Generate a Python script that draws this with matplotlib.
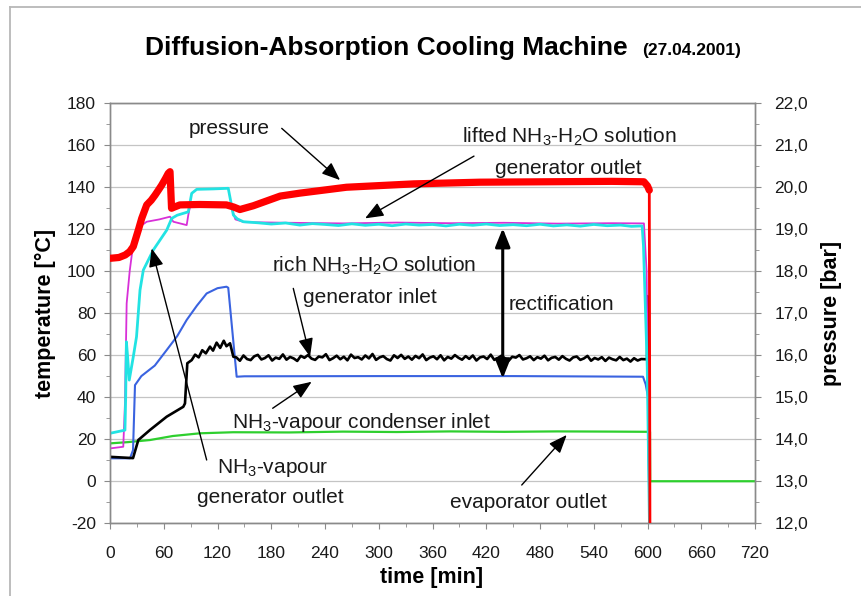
import matplotlib
matplotlib.use('Agg')
import matplotlib.pyplot as plt
from matplotlib.ticker import MultipleLocator, FuncFormatter
from matplotlib.lines import Line2D

plt.rcParams['font.family'] = ['Liberation Sans', 'DejaVu Sans']
plt.rcParams['mathtext.default'] = 'regular'
plt.rcParams['axes.unicode_minus'] = False

# ── measured data: time [min], temperature [°C], pressure [bar] ─────────────
press_t = [0, 10, 17, 22, 26, 31.6, 35.4, 41, 46, 50.2, 54, 57.7, 62, 65, 67,
           68.7, 72, 78, 100, 130, 138, 145, 160, 190, 212, 264, 339, 413,
           487, 560, 596, 600, 602, 602.8]
press_bar = [18.30, 18.32, 18.38, 18.46, 18.58, 18.97, 19.25, 19.57, 19.68,
             19.80, 19.92, 20.04, 20.20, 20.32, 20.36, 19.49, 19.52, 19.57,
             19.58, 19.57, 19.52, 19.46, 19.55, 19.78, 19.85, 19.99, 20.07,
             20.11, 20.12, 20.13, 20.12, 20.02, 19.92, 11.0]

# lifted NH3-H2O solution, generator outlet (cyan)
lift_t = [0, 16.7, 17.5, 18.3, 19.5, 21.5, 26, 29.6, 33.5, 37.2, 48.4, 63.3,
          68.9, 75, 87.4, 91.2, 96.8, 115, 132, 137.7, 142, 148.8, 165, 180,
          196, 212, 226, 240, 255, 270, 285, 300, 315, 330, 345, 360, 375,
          390, 405, 420, 435, 450, 465, 480, 495, 510, 525, 540, 555, 570,
          582, 594, 595.5, 599.7, 602.5]
lift_T = [22.8, 24.3, 40, 66.3, 60, 48.1, 59.2, 68.7, 90.9, 100.4, 110.0,
          119.4, 125.0, 126.5, 128.1, 136.9, 138.8, 139.0, 139.3, 126.6, 124.8,
          123.4, 122.9, 122.3, 122.8, 121.8, 122.5, 122.1, 121.6, 122.4, 121.7,
          122.2, 121.5, 122.3, 121.8, 122.1, 121.4, 122.2, 121.7, 122.3, 121.6,
          122.0, 121.5, 122.2, 121.4, 121.9, 121.3, 122.1, 121.5, 121.8, 121.2,
          121.4, 112, 54.4, -30]

# NH3-vapour, generator outlet (magenta)
vap_t = [0, 14.8, 16.7, 18.6, 22, 26, 27.9, 33, 41, 55, 67, 70.7, 85.6, 87.4,
         90, 134, 140, 150, 200, 260, 320, 380, 440, 500, 560, 596, 599,
         602.5]
vap_T = [15.6, 16.4, 37, 84.6, 100, 113.1, 117.9, 121, 123.4, 124.5, 125.8,
         123.4, 121.8, 126.6, 132, 132, 124.5, 123.2, 122.9, 122.6, 123.0,
         122.7, 122.9, 122.5, 122.7, 122.6, 100, -30]

# NH3-vapour, condenser inlet (blue)
cond_t = [0, 22.3, 25.7, 27.9, 35, 50, 63.3, 75, 85.6, 97, 107.9, 120, 130,
          132, 141.4, 150, 300, 450, 595, 598, 600.5, 602.5]
cond_T = [10.9, 10.9, 14.8, 45.7, 50, 55, 62.4, 69, 76.7, 83.5, 89.3, 91.8,
          92.5, 92.0, 49.7, 49.9, 50.0, 50.0, 49.7, 46, 40.2, -30]

# rich NH3-H2O solution, generator inlet (black)
rich_t = [0, 25.7, 31.6, 44.7, 63.3, 81.8, 83.7, 86.3, 91.2, 95, 99, 103,
          107, 111.6, 115, 119, 123, 127, 130, 134, 137.7,
          141, 145, 149, 153, 157, 161, 165, 169, 173, 177, 181, 185, 189,
          193, 197, 201, 205, 209, 213, 217, 221, 225, 229, 233, 237, 241,
          245, 249, 253, 257, 261, 265, 269, 273, 277, 281, 285, 289, 293,
          297, 301, 305, 309, 313, 317, 321, 325, 329, 333, 337, 341, 345,
          349, 353, 357, 361, 365, 369, 373, 377, 381, 385, 389, 393, 397,
          401, 405, 409, 413, 417, 421, 425, 429, 433, 437, 441, 445, 449,
          453, 457, 461, 465, 469, 473, 477, 481, 485, 489, 493, 497, 501,
          505, 509, 513, 517, 521, 525, 529, 533, 537, 541, 545, 549, 553,
          557, 561, 565, 569, 573, 577, 581, 585, 589, 593,
          599.5, 600.2, 601, 601.8, 602.5]
rich_T = [11.6, 11.0, 19.6, 24.4, 30.7, 35.4, 37.0, 56.1, 57.6, 60.2, 58.9,
          62.3, 60.8, 64.0, 62.1, 65.9, 63.4, 66.8, 64.2, 65.6, 59.2,
          58.9, 57.3, 59.8, 58.1, 57.6, 59.4, 60.1, 57.9, 58.6, 59.9,
          57.4, 58.8, 58.2, 60.3, 57.8, 59.1, 58.4, 57.2, 59.6, 58.7,
          60.0, 58.3, 57.7, 59.3, 58.9, 60.4, 57.6, 58.5, 59.7, 58.0,
          59.2, 57.5, 60.2, 58.6, 59.0, 57.9, 59.8, 58.4, 60.5, 57.7,
          58.9, 59.5, 58.1, 57.4, 59.9, 58.6, 60.1, 58.2, 59.3, 57.8,
          59.6, 58.5, 60.3, 57.6, 58.8, 59.4, 58.0, 59.9, 57.5, 59.1,
          58.3, 60.0, 58.7, 57.8, 59.5, 58.2, 59.8, 57.4, 58.9, 59.3,
          58.1, 60.2, 57.7, 58.6, 59.7, 58.4, 57.3, 59.2, 58.8, 60.0,
          57.9, 58.5, 59.4, 57.6, 59.0, 58.3, 59.7, 57.5, 58.7, 59.1,
          57.8, 59.5, 58.2, 57.4, 58.9, 59.3, 57.7, 58.4, 59.6, 57.3,
          58.6, 57.9, 59.0, 57.2, 58.8, 58.0, 57.5, 59.1, 57.6, 58.3,
          56.9, 58.5, 57.4, 58.1,
          58.0, 88.0, 75.0, 60.0, -30]

# evaporator outlet (green)
evap_t = [0, 20, 44.7, 70, 100.5, 137.5, 200, 260, 320, 380, 440, 500, 560,
          602.8, 603, 720]
evap_T = [18.0, 18.6, 19.6, 21.5, 22.8, 23.3, 23.2, 23.6, 23.4, 23.7, 23.5,
          23.7, 23.6, 23.5, 0, 0]

time_ticks = [0, 60, 120, 180, 240, 300, 360, 420, 480, 540, 600, 660, 720]

# ── figure ───────────────────────────────────────────────────────────────────
W, H = 861, 596
fig = plt.figure(figsize=(W / 100, H / 100), dpi=100)
fig.patch.set_facecolor('white')


def fx(px):
    return px / W


def fy(py):
    return 1 - py / H


ax = fig.add_axes([fx(110), fy(523.3), fx(755) - fx(110), fy(102.7) - fy(523.3)])
ax2 = ax.twinx()

# grey frame round the picture (only left and top edges are in view)
fig.add_artist(Line2D([fx(10), fx(10)], [0, fy(7)], color='#b8b8b8', lw=1.3))
fig.add_artist(Line2D([fx(10), 1], [fy(7), fy(7)], color='#b8b8b8', lw=1.3))

ax.plot(evap_t, evap_T, color='#2ecf2e', lw=1.6, zorder=2)
ax.plot(cond_t, cond_T, color='#3a63e0', lw=1.5, zorder=3)
ax.plot(rich_t, rich_T, color='black', lw=1.9, zorder=4)
ax.plot(vap_t, vap_T, color='#d830d8', lw=1.3, zorder=5)
ax.plot(lift_t, lift_T, color='#22e3e3', lw=2.0, zorder=6)

ax2.plot(press_t[:-1], press_bar[:-1], color='#ff0000', lw=5.2,
         solid_capstyle='round', solid_joinstyle='round', zorder=3)
ax2.plot(press_t[-2:], press_bar[-2:], color='#ff0000', lw=2.0, zorder=3)

ax.set_xlim(0, 720)
ax.set_ylim(-20, 180)
ax2.set_ylim(12, 22)

ax.xaxis.set_major_locator(MultipleLocator(60))
ax.xaxis.set_minor_locator(MultipleLocator(30))
ax.yaxis.set_major_locator(MultipleLocator(20))
ax.yaxis.set_minor_locator(MultipleLocator(10))
ax2.yaxis.set_major_locator(MultipleLocator(1))
ax2.yaxis.set_minor_locator(MultipleLocator(0.5))
ax2.yaxis.set_major_formatter(FuncFormatter(lambda v, _: f'{v:.1f}'.replace('.', ',')))
ax.set_xticks(time_ticks)

ax.yaxis.grid(True, color='#c4c4c4', lw=0.9)
ax.set_axisbelow(True)

for a in (ax, ax2):
    for s in a.spines.values():
        s.set_color('#8a8a8a')
        s.set_linewidth(1.0)
    a.tick_params(which='both', colors='#8a8a8a', labelcolor='#1a1a1a',
                  labelsize=12.5, direction='out')
    a.tick_params(which='major', length=4)
    a.tick_params(which='minor', length=3)
ax.tick_params(axis='x', pad=12)
ax.tick_params(axis='y', pad=6)
ax2.tick_params(axis='y', pad=10)

# axis titles
fig.text(fx(45), fy(313), 'temperature [°C]', rotation=90, ha='center',
         va='center', fontsize=15.5, fontweight='bold')
fig.text(fx(832), fy(313), 'pressure [bar]', rotation=90, ha='center',
         va='center', fontsize=15.5, fontweight='bold')
fig.text(fx(432), fy(578), 'time [min]', ha='center', va='center',
         fontsize=15.5, fontweight='bold')

fig.text(fx(145), fy(55), 'Diffusion-Absorption Cooling Machine', ha='left',
         va='baseline', fontsize=19, fontweight='bold')
fig.text(fx(642), fy(55), '(27.04.2001)', ha='left', va='baseline',
         fontsize=12.5, fontweight='bold')

# ── labels and arrows ────────────────────────────────────────────────────────
TXT = dict(fontsize=15, color='#1a1a1a', va='baseline', ha='left', zorder=10)
ax.text(87.4, 165, 'pressure', **TXT)
ax.text(392.6, 161, 'lifted NH$_3$-H$_2$O solution', **TXT)
ax.text(429.8, 146.1, 'generator outlet', **TXT)
ax.text(180.5, 99.6, 'rich NH$_3$-H$_2$O solution', **TXT)
ax.text(215.8, 84.6, 'generator inlet', **TXT)
ax.text(444.7, 81.4, 'rectification', **TXT)
ax.text(135.8, 25.2, 'NH$_3$-vapour condenser inlet', **TXT)
ax.text(119, 3.8, 'NH$_3$-vapour', **TXT)
ax.text(97, -10.5, 'generator outlet', **TXT)
ax.text(379.5, -12.9, 'evaporator outlet', **TXT)

ARR = dict(arrowstyle='-|>,head_length=0.8,head_width=0.32', color='black',
           lw=1.0, shrinkA=0, shrinkB=0, mutation_scale=14)


def arrow(tip, tail, props=ARR):
    ax2.annotate('', xy=tip, xytext=tail, xycoords=ax.transData,
                 textcoords=ax.transData, arrowprops=props, zorder=12)


arrow((256.8, 143.2), (191.7, 167.8))   # pressure
arrow((284.7, 125.0), (406.3, 154.6))   # lifted solution
arrow((223.3, 59.2), (204.6, 91.7))     # rich solution
arrow((225.1, 47.3), (181.6, 34.7))     # condenser inlet
arrow((46.5, 110.7), (107.9, 10.1))     # vapour generator outlet
arrow((509.8, 22.0), (459.6, -1.8))     # evaporator outlet
arrow((438.4, 120.3), (438.4, 48.9),
      dict(arrowstyle='<|-|>,head_length=0.8,head_width=0.32', color='black',
           lw=2.2, shrinkA=0, shrinkB=0, mutation_scale=14))

fig.savefig('out.png', dpi=100, facecolor='white')
